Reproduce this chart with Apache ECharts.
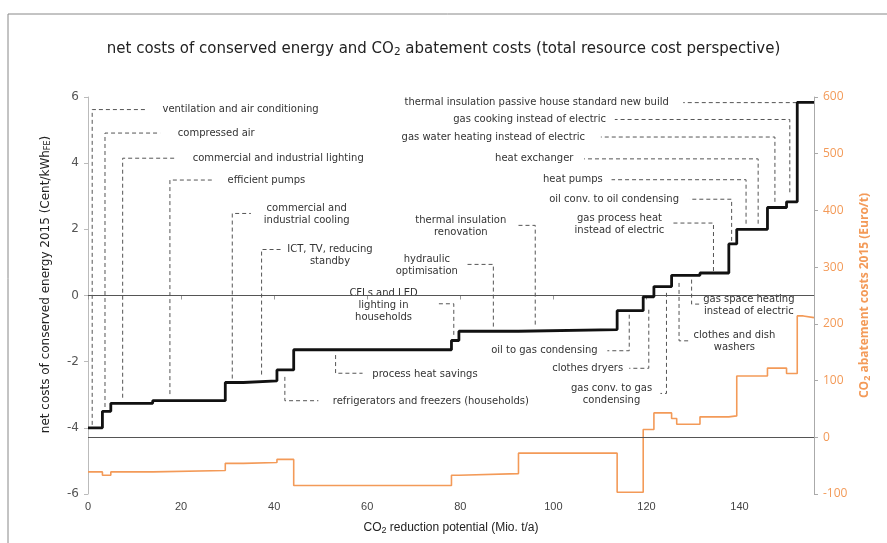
<!DOCTYPE html>
<html>
<head>
<meta charset="utf-8">
<script src="https://cdn.jsdelivr.net/npm/echarts@6/dist/echarts.min.js"></script>
<style>html,body{margin:0;padding:0;background:#fff}#c{width:887px;height:543px}</style>
</head>
<body>
<div id="c"></div>
<script>
// Segment boundaries along the x axis (CO2 reduction potential, Mio. t/a)
const breaks = [0, 3.1, 4.9, 13.9, 29.5, 33.4, 40.6, 44.2, 78.1, 79.7, 92.5, 113.7, 119.3, 121.6, 125.4, 126.5, 131.5, 137.7, 139.4, 146.0, 150.1, 152.4, 153.7, 156];
// Net costs of conserved energy per segment (Cent/kWh FE) – left axis
const netCosts = [-4.0, -3.5, -3.26, -3.18, -2.63, -2.58, -2.25, -1.64, -1.36, -1.08, -1.03, -0.46, -0.04, 0.27, 0.61, 0.61, 0.68, 1.56, 2.0, 2.66, 2.83, 5.84, 5.84];
// CO2 abatement costs per segment (Euro/t) – right axis
const abatementCosts = [-61, -67, -61, -58.5, -46, -44.5, -39, -85, -67, -64, -28, -97, 13.6, 43, 33, 23, 36, 37.7, 108, 122, 112.5, 214, 211];

// Tick settings
const xTicks = [0, 20, 40, 60, 80, 100, 120, 140];
const leftTicks = [-6, -4, -2, 0, 2, 4, 6];
const rightTicks = [-100, 0, 100, 200, 300, 400, 500, 600];

// Annotation labels
const annoLabels = [
  'ventilation and air conditioning',
  'compressed air',
  'commercial and industrial lighting',
  'efficient pumps',
  'commercial and\nindustrial cooling',
  'ICT, TV, reducing\nstandby',
  'refrigerators and freezers (households)',
  'process heat savings',
  'CFLs and LED\nlighting in\nhouseholds',
  'hydraulic\noptimisation',
  'thermal insulation\nrenovation',
  'oil to gas condensing',
  'clothes dryers',
  'gas conv. to gas\ncondensing',
  'gas space heating\ninstead of electric',
  'clothes and dish\nwashers',
  'gas process heat\ninstead of electric',
  'oil conv. to oil condensing',
  'heat pumps',
  'heat exchanger',
  'gas water heating instead of electric',
  'gas cooking instead of electric',
  'thermal insulation passive house standard new build'
];
// Leader lines (data coords: x, net cost)
const annoLeaders = [
  [[0.9,-3.91],[0.9,5.62],[12.6,5.62]],
  [[3.65,-3.37],[3.65,4.91],[15.5,4.91]],
  [[7.45,-3.09],[7.45,4.15],[19.1,4.15]],
  [[17.6,-2.98],[17.6,3.49],[26.6,3.49]],
  [[31,-2.51],[31,2.48],[35,2.48]],
  [[37.3,-2.39],[37.3,1.39],[41.6,1.39]],
  [[42.3,-2.46],[42.3,-3.18],[49.5,-3.18]],
  [[53.2,-1.8],[53.2,-2.35],[59,-2.35]],
  [[78.6,-1.19],[78.6,-0.25],[75,-0.25]],
  [[87.1,-0.94],[87.1,0.94],[81,0.94]],
  [[96.1,-0.88],[96.1,2.12],[92.1,2.12]],
  [[116.3,-0.58],[116.3,-1.67],[111.6,-1.67]],
  [[120.5,-0.43],[120.5,-2.2],[116.3,-2.2]],
  [[124.3,0.08],[124.3,-2.96],[123,-2.96]],
  [[129.7,0.48],[129.7,-0.26],[131.9,-0.26]],
  [[127,0.38],[127,-1.37],[129.2,-1.37]],
  [[134.4,0.74],[134.4,2.19],[125.6,2.19]],
  [[138.3,1.65],[138.3,2.91],[129.2,2.91]],
  [[141.4,2.17],[141.4,3.5],[112.5,3.5]],
  [[144,2.17],[144,4.13],[106.6,4.13]],
  [[147.6,2.83],[147.6,4.79],[110.2,4.79]],
  [[150.8,3.12],[150.8,5.32],[113.2,5.32]],
  [[152.3,5.83],[127.9,5.83]]
];
const annoTextAt = [
  [16,5.62],[19.3,4.91],[22.5,4.15],[30,3.49],[47,2.44],[52,1.22],[52.6,-3.2],[61.1,-2.37],
  [63.5,-0.3],[72.8,0.92],[80.1,2.1],[109.5,-1.67],[115,-2.2],[112.5,-3.0],[142,-0.3],[138.9,-1.39],
  [114.2,2.15],[127,2.91],[110.6,3.5],[104.3,4.13],[106.8,4.79],[111.3,5.32],[124.8,5.83]
];
const annoAlign = ['left','left','left','left','center','center','left','left','center','center','center','right','right','center','center','center','center','right','right','right','right','right','right'];

function stepData(vals) {
  const d = vals.map((v, i) => [breaks[i], v]);
  d.push([breaks[breaks.length - 1], vals[vals.length - 1]]);
  return d;
}

const chart = echarts.init(document.getElementById('c'), null, {renderer: 'canvas'});
const FONT = 'DejaVu Sans';
const ORANGE = '#F39A58';

const option = {
  animation: false,
  backgroundColor: '#fff',
  title: {
    text: '{a|net costs of conserved energy and CO}{s|2}{a| abatement costs (total resource cost perspective)}',
    left: 'center',
    top: 35,
    textStyle: {
      fontWeight: 'normal',
      rich: {
        a: {fontFamily: FONT, fontSize: 15, color: '#222', fontWeight: 'normal'},
        s: {fontFamily: FONT, fontSize: 10.5, color: '#222', fontWeight: 'normal', padding: [7, 0, 0, 0]}
      }
    }
  },
  graphic: [
    {type: 'line', shape: {x1: 8, y1: 14, x2: 887, y2: 14}, style: {stroke: '#888', lineWidth: 1}},
    {type: 'line', shape: {x1: 8, y1: 14, x2: 8, y2: 543}, style: {stroke: '#888', lineWidth: 1}}
  ],
  grid: {left: 88, right: 73, top: 97, bottom: 49},
  xAxis: {
    type: 'value', min: 0, max: 156, interval: 20,
    name: '{a|CO}{s|2}{a| reduction potential (Mio. t/a)}',
    nameLocation: 'middle', nameGap: 26,
    nameTextStyle: {rich: {
      a: {fontFamily: 'Liberation Sans', fontSize: 12, color: '#222'},
      s: {fontFamily: 'Liberation Sans', fontSize: 9, color: '#222', padding: [6, 0, 0, 0]}
    }},
    axisLine: {lineStyle: {color: '#999'}},
    axisTick: {show: true, length: 4, lineStyle: {color: '#999'}},
    axisLabel: {
      fontFamily: 'Liberation Sans', fontSize: 11, color: '#444', margin: 7,
      showMaxLabel: false,
      formatter: v => (xTicks.indexOf(v) >= 0 ? String(v) : '')
    },
    splitLine: {show: false}
  },
  yAxis: [
    {
      type: 'value', min: leftTicks[0], max: leftTicks[leftTicks.length - 1], interval: 2,
      position: 'left',
      name: '{a|net costs of conserved energy 2015 (Cent/kWh}{s|FE}{a|)}',
      nameLocation: 'middle', nameGap: 36, nameRotate: 90,
      nameTextStyle: {padding: [0, 0, 0, 22], rich: {
        a: {fontFamily: FONT, fontSize: 12, color: '#222'},
        s: {fontFamily: FONT, fontSize: 8, color: '#222', padding: [5, 0, 0, 0]}
      }},
      axisLine: {show: true, lineStyle: {color: '#bbb'}},
      axisTick: {show: true, length: 4, lineStyle: {color: '#bbb'}},
      axisLabel: {fontFamily: FONT, fontSize: 12, color: '#555', margin: 9},
      splitLine: {show: false}
    },
    {
      type: 'value', min: rightTicks[0], max: rightTicks[rightTicks.length - 1], interval: 100,
      position: 'right', alignTicks: false,
      name: '{a|CO}{s|2}{a| abatement costs 2015 (Euro/t)}',
      nameLocation: 'middle', nameGap: 44, nameRotate: 90,
      nameTextStyle: {rich: {
        a: {fontFamily: 'Open Sans', fontSize: 12, color: ORANGE, fontWeight: 'bold'},
        s: {fontFamily: 'Open Sans', fontSize: 9, color: ORANGE, fontWeight: 'bold', padding: [5, 0, 0, 0]}
      }},
      axisLine: {show: true, lineStyle: {color: '#aaa'}},
      axisTick: {show: true, length: 4, lineStyle: {color: '#aaa'}},
      axisLabel: {fontFamily: 'Open Sans', fontSize: 12, color: ORANGE, margin: 9},
      splitLine: {show: false}
    }
  ],
  series: [
    {
      type: 'custom', xAxisIndex: 0, yAxisIndex: 0, clip: false, silent: true, z: 1,
      data: annoLabels.map((t, i) => [i]),
      renderItem: function (params, api) {
        const i = api.value(0);
        const pts = annoLeaders[i].map(p => api.coord(p));
        const tp = api.coord(annoTextAt[i]);
        return {
          type: 'group',
          children: [
            {type: 'polyline', shape: {points: pts},
             style: {stroke: '#555', lineWidth: 1, lineDash: [4, 3], fill: null}},
            {type: 'text', x: tp[0], y: tp[1],
             style: {text: annoLabels[i], fill: '#333', font: '10px "DejaVu Sans"',
                     align: annoAlign[i], verticalAlign: 'middle', lineHeight: 12}}
          ]
        };
      }
    },
    {
      name: 'net costs', type: 'line', xAxisIndex: 0, yAxisIndex: 0,
      step: 'end', data: stepData(netCosts), symbol: 'none', z: 5,
      lineStyle: {color: '#111', width: 2.8},
      markLine: {silent: true, symbol: 'none', label: {show: false},
        lineStyle: {color: '#555', width: 1, type: 'solid'}, data: [{yAxis: 0}]}
    },
    {
      name: 'abatement', type: 'line', xAxisIndex: 0, yAxisIndex: 1,
      step: 'end', data: stepData(abatementCosts), symbol: 'none', z: 4,
      lineStyle: {color: ORANGE, width: 1.6},
      markLine: {silent: true, symbol: 'none', label: {show: false},
        lineStyle: {color: '#555', width: 1, type: 'solid'}, data: [{yAxis: 0}]}
    }
  ]
};
chart.setOption(option);
</script>
</body>
</html>
